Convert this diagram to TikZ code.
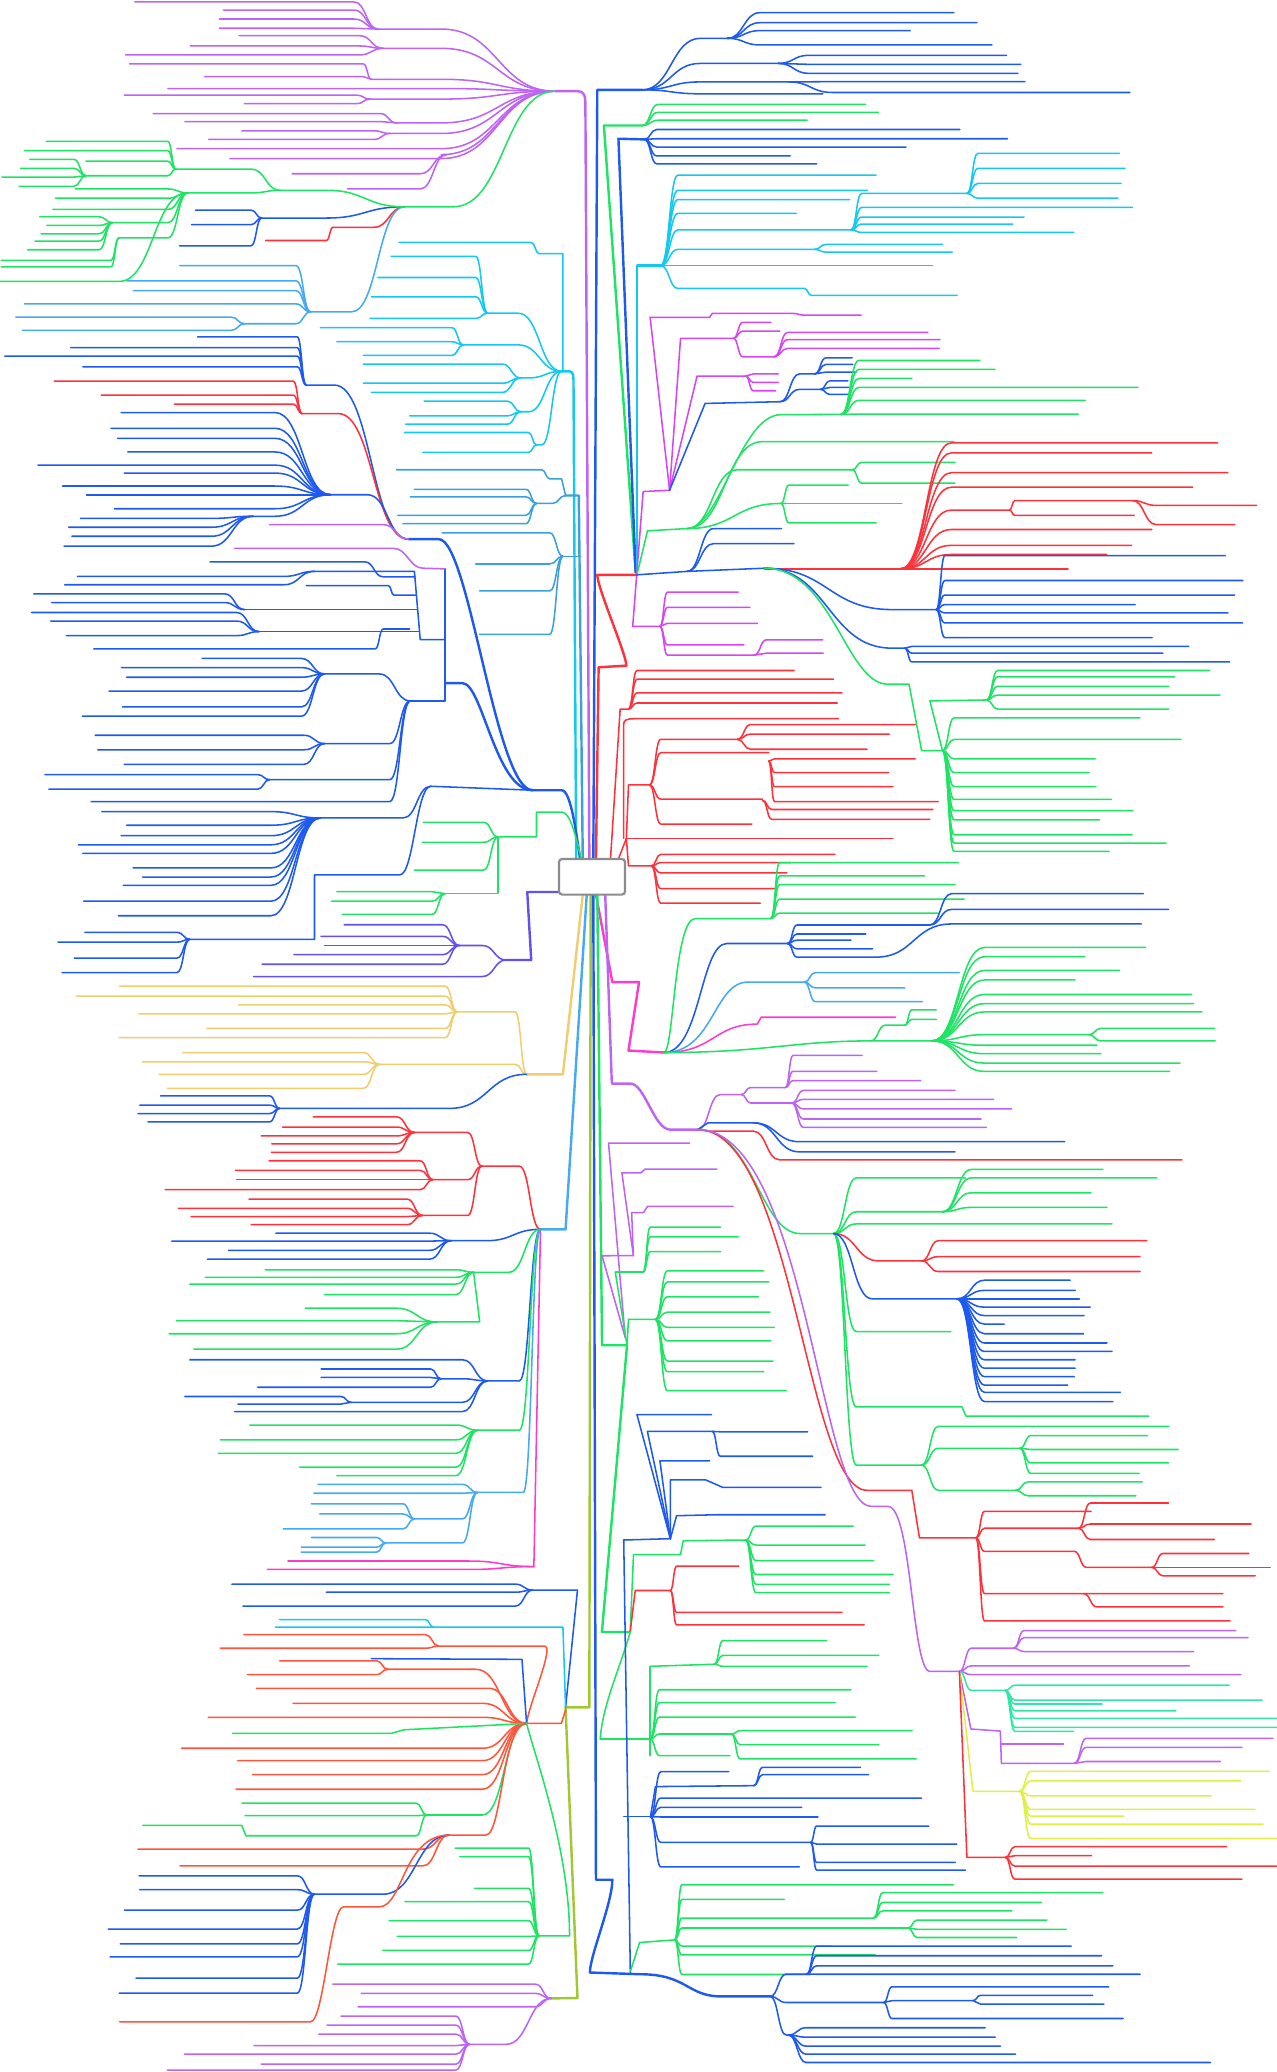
\documentclass[tikz,border=0pt]{standalone}
\usepackage{tikz}
\definecolor{vio}{RGB}{190,100,245}
\definecolor{mgt}{RGB}{215,70,245}
\definecolor{grn}{RGB}{30,228,100}
\definecolor{blu}{RGB}{30,90,240}
\definecolor{cyn}{RGB}{20,200,240}
\definecolor{sky}{RGB}{70,170,240}
\definecolor{stl}{RGB}{60,160,220}
\definecolor{rd}{RGB}{255,50,60}
\definecolor{ord}{RGB}{255,85,60}
\definecolor{yel}{RGB}{240,205,110}
\definecolor{ind}{RGB}{100,80,240}
\definecolor{pnk}{RGB}{255,60,200}
\definecolor{tea}{RGB}{50,230,170}
\definecolor{lim}{RGB}{222,240,70}
\definecolor{ygr}{RGB}{160,200,50}
\definecolor{boxc}{RGB}{140,140,140}
\newcommand\lfan[5]{\foreach \yy/\ee in {#5}{\draw[lf,#1] (#2,#3) .. controls ({(#2+#4)/2},#3) and ({(#2+#4)/2},\yy) .. (#4,\yy) -- (\ee,\yy);}}
\begin{document}
\begin{tikzpicture}[x=0.6pt,y=-0.6pt,
  lf/.style={line width=0.7pt,line cap=round,line join=round},
  tr/.style={line width=1.1pt,line cap=round,line join=round}]
\fill[white] (0,0) rectangle (966,1568);
\useasboundingbox (0,0) rectangle (966,1568);
% ================= LEFT TOP PURPLE =================
\draw[tr,vio] (420,69) -- (437,69) .. controls (442,69) and (443,72) .. (443,80) -- (446,650);
\lfan{vio}{420}{69}{334}{22/286, 36.6/290, 60/281, 67/127, 75/280, 93/300, 101/295, 112.5/134, 120/174, 117/338}
\lfan{vio}{286}{22}{268}{1.5/102, 7.6/169, 14.4/166, 21.4/166}
\lfan{vio}{290}{36.6}{272}{27/181, 34.8/144, 41.6/95}
\lfan{vio}{281}{60}{275}{48.4/98, 58/155}
\lfan{vio}{280}{75}{270}{72/94, 78.5/185}
\lfan{vio}{300}{93}{288}{86/116, 92/140}
\lfan{vio}{295}{101}{283}{99/183, 105.5/158}
\lfan{vio}{338}{117}{318}{131.5/221, 143/263}
% ================= LEFT TOP GREEN =================
\lfan{grn}{420}{69}{343}{156.5/306}
\lfan{rd}{306}{156.5}{283}{172/252}
\lfan{rd}{252}{172}{247}{182/201}
\lfan{blu}{306}{156.5}{247}{165/198}
\lfan{blu}{198}{165}{190}{159/148, 170/145, 186/136}
\lfan{sky}{306}{156.5}{266}{236/235}
\lfan{sky}{235}{236}{224}{201/136, 212.5/96, 220/101, 230/18.5, 245/185}
\lfan{sky}{185}{245}{175}{240/12, 250/17}
\lfan{grn}{306}{156.5}{247}{144/212}
\lfan{grn}{212}{144}{190}{128/133, 146/142}
\lfan{grn}{133}{128}{127}{107/35, 114/18.5, 122/65, 133/65}
\lfan{grn}{65}{133}{56}{120.6/22.5, 127.4/15.5, 134/1.5, 141/14.5}
\lfan{grn}{142}{146}{127}{143/57, 150/42, 158.5/40, 168.5/85, 180/90}
\lfan{grn}{142}{146}{90}{213/0}
\lfan{grn}{85}{168.5}{75}{164/30, 170.6/35.5, 177/31, 182.4/26.5, 189/21}
\lfan{grn}{90}{180}{84}{197/1, 202/1}
% ================= CYAN UPPER LEFT =================
\draw[tr,cyn] (425,281) -- (431,281) .. controls (434,281) and (434,285) .. (434,290) -- (436,650);
\draw[lf,cyn] (302,183.5) -- (402,183.5) .. controls (405,183.5) and (405,192) .. (408,192) -- (426,192) -- (426,281);
\lfan{cyn}{425}{281}{392}{237/369, 261/350.6}
\lfan{cyn}{425}{281}{400}{286/394, 311.6/394}
\lfan{cyn}{425}{281}{410}{336.7/406}
\lfan{cyn}{369}{237}{360}{194/296, 210/286, 224.6/281, 241/280}
\lfan{cyn}{350.6}{261}{342}{248/242.5, 258.6/255, 269/275}
\lfan{cyn}{394}{286}{380}{275.5/275, 290/275, 297/281}
\lfan{cyn}{394}{311.6}{384}{303.5/321, 314.7/310, 321/307}
\lfan{cyn}{406}{336.7}{400}{327.3/306, 342.3/320}
% ================= STEEL BLUE =================
\draw[lf,stl] (300,355.5) -- (410,355.5) .. controls (413,355.5) and (413,362.4) .. (416,362.4) -- (425,362.4) -- (428,375);
\draw[tr,stl] (428,375) -- (438,375) -- (441,650);
\lfan{stl}{428}{375}{418}{381/406}
\lfan{stl}{406}{381}{398}{370.3/313.6, 376/310.5, 390/301, 396.3/305}
\draw[lf,stl] (426,421) -- (439.5,421);
\lfan{stl}{426}{421}{416}{403.2/334.6, 426.8/360, 447.2/363, 480/363}
% ================= LEFT BIG BLUE =================
\draw[tr,blu] (403,598) -- (425,598) .. controls (432,598) and (436,630) .. (439,650);
\draw[tr,blu] (403,598) .. controls (375,598) and (355,408) .. (332,408) -- (309,408);
\lfan{blu}{309}{408}{253}{291.4/231.7}
\lfan{rd}{309}{408}{256}{313/228.6}
\lfan{blu}{309}{408}{278}{374.4/250}
\lfan{vio}{309}{408}{290}{397/204}
\lfan{blu}{231.7}{291.4}{225}{255/149.5, 263/53.4, 269.5/3.7, 277.6/62.7}
\lfan{rd}{228.6}{313}{222}{288.4/41, 299/76.6, 305.8/132}
\lfan{blu}{250}{374.4}{208}{312.2/91.7, 324.1/84, 331.7/89, 342/96.7, 352/28.7, 358/94, 367.8/47.3, 374.4/65.5, 385/86.5, 390.7/191.5}
\lfan{blu}{191.5}{390.7}{160}{392.3/61, 399/52, 405.8/54.4, 413.3/48.5}
\draw[tr,blu] (403,598) .. controls (375,598) and (365,517) .. (350,517) -- (336.7,517);
\draw[lf,blu] (336.7,430.5) -- (336.7,530.4);
\draw[lf,vio] (336.7,430.5) -- (320,430) .. controls (310,430) and (308,415) .. (298,415) -- (177.6,415);
% B7 group
\draw[lf,blu] (336.7,484) -- (318,484) -- (313.6,432.4) -- (238,432.4);
\lfan{blu}{238}{432.4}{215}{436.2/58.7, 442.5/49}
\draw[lf,blu] (159,425.2) -- (276,425.2) .. controls (283,425.2) and (283,436.5) .. (290,436.5) -- (314,436.5);
\draw[lf,blu] (231.7,443.2) -- (294,443.2) .. controls (296,443.2) and (296,450.3) .. (298,450.3) -- (315,450.3);
\draw[lf,blu] (316,461.3) -- (185,461.3);
\lfan{blu}{185}{461.3}{170}{449.4/25.6, 456/39.2}
\draw[lf,blu] (317,478) -- (196,478);
\lfan{blu}{196}{478}{179}{463.5/24, 470/38.3, 481/50.4}
\draw[lf,blu] (71,491) -- (284,491) .. controls (287,491) and (287,476) .. (290,476) -- (310,476);
% B9 group
\draw[lf,blu] (336.7,530.4) -- (310.5,530.4);
\lfan{blu}{310.5}{530.4}{287}{510/245.6}
\lfan{blu}{245.6}{510}{228}{498.3/153, 505.2/92, 512.5/95.8, 523/82.5, 535/92.7, 542/62.4}
\lfan{blu}{310.5}{530.4}{295}{562.7/245.6, 590/204, 606.6/69}
\lfan{blu}{245.6}{562.7}{230}{556.4/72, 567.4/74, 578.4/94}
\lfan{blu}{204}{590}{195}{586.2/34, 597.2/37}
\draw[lf,blu] (403,598) -- (326,595);
\lfan{blu}{326}{595}{305}{619/242.5}
\lfan{blu}{242.5}{619}{205}{614.2/77, 624.5/95.8, 632.4/91.7, 639.3/59.3, 645.8/62.7, 656.8/100.7, 663.7/108, 670/93.3, 682/63.3, 693/89.6}
\draw[lf,blu] (326,595) .. controls (315,595) and (313,662) .. (302.7,662) -- (238,662) -- (238,710.8) -- (143.6,710.8);
\lfan{blu}{143.6}{710.8}{134}{705.5/64.3, 713/43.9, 725/56.2, 736/47}
% ================= GREEN NEAR BOX =================
\draw[lf,grn] (376.9,633.3) -- (406,633.3) -- (406,614.5) -- (425,614.5) .. controls (432,614.5) and (436,635) .. (440,650);
\lfan{grn}{376.9}{633.3}{366}{622.3/320.4, 637.4/319.7, 658.4/313.6}
\draw[lf,grn] (376.9,633.3) -- (376.9,676.3) -- (336.7,676.3);
\lfan{grn}{336.7}{676.3}{327}{674.8/255, 682/251, 692/259}
% ================= INDIGO =================
\draw[tr,ind] (383,726.5) -- (402,726.5) -- (399,675) -- (423,675);
\lfan{ind}{383}{726.5}{365}{715.5/347.5, 739/192}
\lfan{ind}{347.5}{715.5}{335}{699.8/260.4, 708.6/243, 715.5/245.6, 722.4/222.4, 729.7/198.3}
% ================= YELLOW =================
\draw[tr,yel] (398.5,813) -- (426,813) -- (441,677);
\lfan{yel}{398.5}{813}{390}{765.8/346, 805.4/287.3}
\lfan{yel}{346}{765.8}{337}{746.3/90.5, 753.8/57.8, 760.4/180.7, 767.3/105, 778.3/156.6, 785.2/90.2}
\lfan{yel}{287.3}{805.4}{275}{796.5/138.4, 803.5/107.8, 813/120.5, 823.6/126.7}
\lfan{blu}{398.5}{813}{340}{838.8/211.6}
\lfan{blu}{211.6}{838.8}{204}{829.3/121.4, 836.3/105.7, 842.7/104.4, 849/112}
% ================= LOWER LEFT R0 =================
\draw[tr,sky] (409,930.3) -- (428,930.3) -- (444,677);
\lfan{rd}{409}{930.3}{393}{882.5/364.6}
\lfan{rd}{364.6}{882.5}{354}{857/313.6, 892.7/327.5, 919.8/319.7}
\lfan{rd}{313.6}{857}{300}{845.2/237, 852.9/213.8, 859.6/197.7, 865.6/205.7, 872/205.4}
\lfan{rd}{327.5}{892.7}{318}{878.4/203.6, 885.7/178.2, 892.7/178.9, 900.3/125.1}
\lfan{rd}{319.7}{919.8}{308}{907.4/188.4, 914.4/135, 920.7/144.6, 926.8/190}
\lfan{blu}{409}{930.3}{368}{938.9/341.4}
\lfan{blu}{341.4}{938.9}{325}{933.2/208.8, 939.2/130, 946.2/173, 952.9/157}
\lfan{grn}{409}{930.3}{385}{962.8/358.4}
\lfan{grn}{358.4}{962.8}{345}{960.9/200.8, 966.6/155.4, 971.7/143.6, 979.7/245.6}
\draw[lf,grn] (358.4,962.8) -- (363,1000.4) -- (330.6,1000.4);
\lfan{grn}{330.6}{1000.4}{300}{990/231, 999.4/133.5, 1009.3/128, 1021/146.7}
\lfan{blu}{409}{930.3}{393}{1045/369}
\lfan{blu}{369}{1045}{350}{1029/143.6, 1043.4/333.6, 1061.2/265.7, 1068.2/177.6}
\lfan{blu}{333.6}{1043.4}{326}{1036/243, 1042.4/243, 1049.8/195}
\lfan{blu}{265.7}{1061.2}{258}{1056.8/140, 1062.5/180}
\lfan{grn}{409}{930.3}{393}{1082.3/361.4}
\lfan{grn}{361.4}{1082.3}{345}{1078.4/189, 1089.6/166.8, 1099.8/165.3, 1110.3/226.8, 1116.6/254.9}
\lfan{sky}{409}{930.3}{396}{1129.4/361.4}
\lfan{sky}{361.4}{1129.4}{350}{1123.3/240.7, 1130/237.6, 1149.4/313.6, 1167.6/292}
\lfan{sky}{313.6}{1149.4}{305}{1138/235.7, 1145.7/241.9, 1157/214.4}
\lfan{sky}{292}{1167.6}{285}{1163.5/235.7, 1170.8/228, 1174.6/228}
\draw[lf,pnk] (409,932) -- (404,1185.5);
\lfan{pnk}{404}{1185.5}{355}{1181.3/217.8, 1187.7/202.3}
% ================= LOWER LEFT R2 =================
\draw[tr,ygr] (447,677) -- (446,1292) -- (428,1292) -- (437,1512) -- (417,1512.3);
\draw[lf,blu] (403,1203.3) -- (437,1203.3) -- (428,1292);
\lfan{blu}{403}{1203.3}{390}{1198.8/175.5, 1204.9/247, 1215.4/183.8}
\draw[lf,cyn] (208.5,1231.3) -- (426,1231.3) -- (428,1292);
\draw[lf,cyn] (211.6,1225.6) -- (322,1225.6) .. controls (325,1225.6) and (325,1231.3) .. (328,1231.3);
\draw[lf,ord] (398.5,1304.2) -- (424.8,1304.2) -- (428,1294);
\lfan{ord}{398.5}{1304.2}{365}{1289/221.8, 1299.6/157.6, 1323/137.5, 1332.4/179.8, 1343/191, 1354/178.6}
\lfan{ord}{398.5}{1304.2}{370}{1277.6/194}
\lfan{ord}{398.5}{1304.2}{360}{1263.2/293.5}
\lfan{ord}{293.5}{1263.2}{285}{1256.8/211.6, 1267.3/187.2}
\draw[lf,ord] (332,1245.7) -- (412,1245.7) .. controls (420,1245.7) and (400,1290) .. (398.5,1304.2);
\lfan{ord}{332}{1245.7}{322}{1237/184.4, 1247.3/166.8}
\draw[lf,blu] (281,1255.2) -- (395,1255.7) -- (398.5,1304.2);
\draw[lf,grn] (176,1311.7) -- (296,1311.7) -- (306,1309) -- (398.5,1304.2);
\lfan{grn}{398.5}{1304.2}{365}{1373.5/322.8}
\lfan{grn}{322.8}{1373.5}{315}{1364.5/183.2, 1374/185.4, 1389.2/186.3}
\draw[lf,grn] (108,1381.4) -- (183,1381.4) -- (186,1389.2);
\draw[lf,ord] (398.5,1304.2) .. controls (380,1304.2) and (380,1388.7) .. (367.6,1388.7) -- (339.8,1388.7);
\lfan{ord}{339.8}{1388.7}{320}{1399.3/104.4, 1412/136.2}
\lfan{blu}{339.8}{1388.7}{290}{1433.4/237.9}
\lfan{blu}{237.9}{1433.4}{225}{1419.5/105.3, 1430/105.7, 1445.5/94.2, 1459.8/81.9, 1471/91, 1480.8/83.4, 1497/102.9, 1508.3/90.2}
\draw[lf,ord] (339.8,1388.7) .. controls (305,1388.7) and (305,1443) .. (287,1443) -- (260,1443) .. controls (250,1443) and (245,1530) .. (235,1530) -- (90.5,1530);
\draw[lf,grn] (407.8,1465) -- (431,1465) .. controls (431,1400) and (405,1330) .. (398.5,1304.2);
\lfan{grn}{407.8}{1465}{400}{1398.5/344.5, 1405/348, 1429/359, 1439/306.5, 1453.5/294.4, 1465.4/300.6, 1476/289.8, 1486.3/255.5}
\lfan{vio}{417}{1512.3}{405}{1501.5/251.8, 1508.5/273.4, 1518.6/271}
\lfan{vio}{417}{1512.3}{383}{1547/355.3}
\lfan{vio}{355.3}{1547}{345}{1525.7/258, 1532.5/247.5, 1539.3/241.3, 1548/192.2, 1554.5/139.6, 1562/197.7, 1566.5/126.7}
% ================= RIGHT TOP =================
\draw[tr,blu] (486,68) -- (452,68) -- (449,650);
\lfan{blu}{486}{68}{530}{29/550.5, 48/588.9, 62/597, 71/622.7}
\lfan{blu}{550.5}{29}{575}{9.6/721.8, 17.2/739.3, 23.2/688.7, 34/750.7}
\lfan{blu}{588.9}{48}{612}{41.9/761.7, 48.7/772.5, 55.5/770.3}
\lfan{blu}{597}{62}{630}{61.8/775.6, 70/855}
\draw[tr,grn] (486,95) -- (457,95) -- (481,433);
\lfan{grn}{486}{95}{498}{79/655, 85/664.7, 91/610.7}
\draw[tr,blu] (487.6,105.5) -- (468,105) -- (481,433);
\lfan{blu}{487.6}{105.5}{497}{98/726.4, 105/762.4, 111.3/685.6, 118/598, 124/618}
\draw[tr,cyn] (500,201) -- (482,201) -- (482,433);
\lfan{cyn}{500}{201}{513}{132.5/663, 144/656.4, 151/643, 161.5/602.7, 174/644, 188.7/616.5, 201/705.6, 218.3/608.8}
\lfan{cyn}{644}{174}{652}{146.4/731.7, 157/857, 164.3/775, 169.6/766.4, 175.9/812.4}
\lfan{cyn}{731.7}{146.4}{740}{116/847, 127.4/851.4, 138.8/848.3, 150/846}
\lfan{cyn}{616.5}{188.7}{625}{185/713.2, 190.8/720.6}
\lfan{cyn}{608.8}{218.3}{614}{223.6/724.3}
% ---- upper-right purple ----
\draw[lf,mgt] (506.7,371) -- (486.7,372) -- (478.8,474) -- (499.4,474);
\draw[lf,mgt] (492,240.2) -- (537,240.2) -- (539,237.2) -- (600,237.2) .. controls (605,237.2) and (603,238.5) .. (610,238.5) -- (651.8,238.5);
\draw[lf,mgt] (492,240.2) -- (506.7,371);
\draw[lf,mgt] (506.7,371) -- (515,256) -- (555,256);
\lfan{mgt}{555}{256}{562}{244/583.4, 250.6/590, 270/585.8}
\lfan{mgt}{585.8}{270}{596}{251.6/702.2, 257/711.4, 263.7/710.8}
\draw[lf,mgt] (506.7,371) -- (527.5,284.6) -- (564.3,284.6);
\lfan{mgt}{564.3}{284.6}{570}{283/589, 289.4/589, 295.7/587}
\draw[lf,blu] (506.7,371) -- (533.6,305.3) -- (590.4,304);
\lfan{blu}{590.4}{304}{605}{294.7/621, 283/616.5}
\lfan{blu}{621}{294.7}{628}{288.2/641.7, 293.2/642.3, 298.5/642.3}
\lfan{blu}{616.5}{283}{625}{270.8/644.8, 275.8/645.4, 281.6/647.8}
\draw[lf,grn] (636.5,313.6) -- (591,313.8) .. controls (560,313.8) and (545,400) .. (520,400) -- (490,401.7) -- (482,435);
\lfan{grn}{636.5}{313.6}{650}{272.8/741.5, 279.6/752.8, 286.4/690, 293.2/861.2, 303/821.3, 313.4/816}
\lfan{grn}{520}{400}{577}{334.2/722}
\lfan{grn}{520}{400}{558}{355.5/645}
\lfan{grn}{645}{355.5}{652}{349.9/722.7, 365.6/722.7}
\lfan{grn}{520}{400}{591}{381/595}
\lfan{grn}{591}{381}{597}{367.1/641.9, 381/682.5, 395.7/663}
% ---- hub H ----
\draw[tr,rd] (482,435) -- (452,435) .. controls (452,445) and (474,495) .. (474,503.7) -- (453,505) -- (451,650);
\draw[lf,blu] (482,435) -- (520,432.4) -- (578.6,430);
\lfan{blu}{520}{432.4}{540}{400/591.3, 411.4/600.8}
\draw[lf,rd] (578.6,430.5) -- (681.5,430.5);
\lfan{rd}{681.5}{430.5}{720}{335.1/921.3, 342.7/871.6, 357.7/929.2, 368.7/902.6, 386/763.9, 400.7/871.6, 412.7/856.4, 419.6/837.4, 430.5/808.2}
\lfan{rd}{763.9}{386}{768}{378.8/857, 390/858.3}
\lfan{rd}{857}{378.8}{875}{382.5/950.8, 397/934.3}
\lfan{blu}{578.6}{430}{675}{461.3/708.5, 490.5/684.7}
\lfan{blu}{708.5}{461.3}{715}{420.5/927.3, 439.3/940.6, 450.3/934.3, 457.5/859, 463.8/929.2, 471.4/940.3, 482.6/871.9}
\lfan{blu}{684.7}{490.5}{690}{489.2/899.5, 494.3/880, 500.9/930.5}
\draw[lf,grn] (578.6,430) .. controls (630,430) and (640,517.8) .. (672,517.8) -- (687.9,517.8) -- (697.4,568) -- (713.2,568);
\lfan{grn}{713.2}{568}{722}{574.3/828.8, 584.7/824, 595.3/829.4, 605/840.9, 613.5/857.3, 620.4/832, 631.7/856.7, 638/882.4, 644.3/839.3, 543.2/862.7, 559.5/893.7}
\draw[lf,grn] (713.2,568) -- (703.7,530.4) -- (746.5,529.7);
\lfan{grn}{746.5}{529.7}{755}{507.4/915.3, 512.2/889, 519.4/884.3, 526/923.2, 536.6/884.3}
\lfan{mgt}{499.4}{474}{505}{448.1/558.6, 459.7/567.5, 471.7/573.2, 488/563, 495.8/570.6}
\lfan{mgt}{570.6}{495.8}{580}{484.2/622.6, 494.3/623}
% ---- red clusters near box ----
\draw[lf,rd] (462,650) -- (469.3,536.6) -- (475.6,536.6);
\lfan{rd}{475.6}{536.6}{482}{507.4/601, 514/630.8, 524.4/637.2, 532/633.7}
\draw[lf,rd] (468,650) -- (474,634.5);
\draw[lf,rd] (472,634.5) -- (472,548) .. controls (472,545) and (474,543.9) .. (480,543.9) -- (634.6,543.9);
\draw[lf,rd] (474,634.5) -- (475.6,594) -- (491.5,594);
\lfan{rd}{491.5}{594}{500}{559.5/558, 569.6/581.8, 604.7/577, 623.6/569}
\lfan{rd}{558}{559.5}{568}{548.3/692.6, 555.5/673, 567/656.2}
\lfan{rd}{581.8}{576}{586}{574.3/692.6, 584.7/672.3, 595.3/675.8, 606.6/710}
\lfan{rd}{577}{605.7}{584}{612.6/706, 620/703.7}
\lfan{rd}{474}{634.5}{490}{634.5/675.8}
\draw[lf,rd] (474,634.5) -- (475.6,655.3) -- (493,655.3);
\lfan{rd}{493}{655.3}{500}{646.5/631.8, 652.8/598.5, 660.6/595.4, 672.5/587.1, 683.5/575.4}
% ---- J junction ----
\draw[tr,pnk] (451,677) -- (463.4,743.2) -- (483.6,743.2) -- (475.6,795) -- (502.6,796.5);
\draw[lf,grn] (583.3,695.1) -- (526.3,695.1) .. controls (510,695.1) and (510,795) .. (502.6,796.5);
\lfan{grn}{583.3}{695.1}{590}{652.8/725.2, 662.8/699.6, 669.4/722.7, 680.4/729.7, 691/710}
\draw[lf,blu] (502.6,796.5) .. controls (530,796.5) and (530,714) .. (550,714) -- (596,714);
\lfan{blu}{596}{714}{603}{700/703.7, 706.8/655.2, 711.5/644, 718/660.3, 724.3/663}
\lfan{blu}{703.7}{700}{720}{676.3/865.2, 688.2/884.3}
\lfan{blu}{663}{724.3}{720}{699.2/863.7}
\draw[lf,sky] (502.6,796.5) .. controls (540,796.5) and (540,743.2) .. (566,743.2) -- (608.7,743.2);
\lfan{sky}{608.7}{743.2}{617}{736/725.9, 747.6/684.7, 758/698}
\draw[lf,pnk] (502.6,796.5) .. controls (540,796.5) and (540,775) .. (573,775) -- (576,769.8) -- (677.7,769.8);
\draw[lf,grn] (502.6,796.5) .. controls (580,796.5) and (600,787.7) .. (659,787.7) -- (705.3,787.7);
\lfan{grn}{659}{787.7}{670}{775.8/684.7}
\lfan{grn}{684.7}{775.8}{690}{764.2/708.5, 771.4/708.5}
\lfan{grn}{705.3}{787.7}{745}{717/866.8, 724/821, 734.4/847.2, 741.6/813.6, 752.6/901.7, 759.5/903.3, 765.8/909.6, 783/824, 791/830, 797.4/833, 804.5/893, 810.8/885}
\lfan{grn}{824}{783}{833}{778.3/919, 787.7/919.6}
% ---- purple PR ----
\draw[tr,vio] (458,677) -- (463,820) -- (477,820) .. controls (488,820) and (495,854.8) .. (507,854.8) -- (528,854.8);
\lfan{vio}{528}{854.8}{545}{828.3/561}
\lfan{vio}{561}{828.3}{568}{823/594.4, 834.7/599.2}
\lfan{vio}{594.4}{823}{600}{798.7/652.4, 810.8/663.5, 817.8/696.7}
\lfan{vio}{599.2}{834.7}{608}{825.2/722.7, 831.9/751.9, 839.2/765.5, 846.8/742.4, 853.2/746.5}
\draw[lf,blu] (528,854.8) -- (535.8,849.7) -- (570,849.7);
\lfan{blu}{570}{849.7}{605}{864/805.7, 871.7/722.7}
\draw[lf,rd] (528,854.8) -- (535.8,856) -- (570,856);
\lfan{rd}{570}{856}{590}{877.7/894.4}
\draw[lf,grn] (528,854.8) .. controls (570,854.8) and (575,933.5) .. (605.5,933.5) -- (630.8,933.5);
\lfan{grn}{630.8}{933.5}{648}{891.4/730.6, 917/713.2, 926.2/841.5, 1007.7/719.5, 1064.7/653, 1108.7/697.4}
\draw[lf,grn] (653,1064.7) -- (728,1064.7) -- (731,1071.7) -- (869.4,1071.7);
\lfan{rd}{630.8}{933.5}{665}{954.2/697.4}
\lfan{blu}{630.8}{933.5}{660}{982.9/724.3}
\lfan{grn}{713.2}{917}{735}{885/834.5, 891.4/875.4, 902.6/825.6, 913.7/837.7}
\lfan{rd}{697.4}{954.2}{710}{938.9/867.8, 951/862.7, 962.2/862.7}
\lfan{blu}{724.3}{982.9}{745}{968.8/809.8, 976.5/813.6, 982.9/816.8, 989.2/825, 995.6/820.3, 1002/760, 1009.3/820, 1016.3/837.7, 1022.7/841.5, 1029/813.6, 1035.4/813.6, 1041.8/813, 1048.2/808, 1053.6/847.8, 1060.6/842.1}
\lfan{grn}{697.4}{1108.7}{710}{1079.4/884.3, 1096/771.8, 1127.8/768.6}
\lfan{grn}{771.8}{1096}{780}{1086.4/868.4, 1096.9/891.5, 1107/884.3, 1115/862}
\lfan{grn}{768.6}{1127.8}{778}{1121.4/864.3, 1131.9/859.5}
\draw[lf,rd] (528,854.8) .. controls (600,854.8) and (610,1127.8) .. (656.2,1127.8) -- (690,1127.8) -- (695.8,1163.8) -- (738.5,1163.8);
\lfan{rd}{738.5}{1163.8}{745}{1143.7/825.7, 1156.5/816.2, 1174/813, 1205.9/925.4, 1226.6/930.8}
\lfan{rd}{816.2}{1156.5}{825}{1137.4/884.3, 1153.3/946.7, 1165/919}
\lfan{rd}{813}{1174}{822}{1186.1/871.6}
\lfan{rd}{871.6}{1186.1}{880}{1175.6/945, 1186.1/961.2, 1192.5/949.8}
\lfan{rd}{820}{1205.9}{830}{1216/925.4}
\draw[lf,vio] (528,854.8) .. controls (610,854.8) and (620,1140) .. (659.4,1140) -- (672,1140) .. controls (690,1140) and (690,1264.8) .. (703.7,1264.8) -- (726,1264.8);
\lfan{vio}{726}{1264.8}{735}{1247.3/767, 1260.6/900, 1267.3/939}
\lfan{vio}{767}{1247.3}{775}{1233.9/935, 1239.3/944.4, 1249.8/903.3}
\lfan{tea}{726}{1264.8}{735}{1279.2/760.7}
\lfan{tea}{760.7}{1279.2}{768}{1275.3/930.2, 1286.5/955, 1289.5/834, 1294.6/889.8, 1300.4/966, 1307.2/966, 1310.2/812.4}
\draw[lf,vio] (726,1264.8) -- (734.7,1308.4) -- (757,1310) -- (757.8,1334.4) -- (813,1334.4);
\draw[lf,vio] (757.8,1319.8) -- (804.7,1319.8);
\lfan{vio}{813}{1334.4}{822}{1315.5/963.4, 1322.3/939.8, 1333/923.5}
\draw[lf,lim] (726,1264.8) -- (736.3,1355.6) -- (771.6,1355.6);
\lfan{lim}{771.6}{1355.6}{780}{1340.5/960.4, 1347.6/938.9, 1359/916.5, 1369.3/949.8, 1374.3/850.5, 1380.4/955.8, 1391.2/966}
\draw[lf,rd] (726,1264.8) -- (731.7,1405.6) -- (760.8,1405.6);
\lfan{rd}{760.8}{1405.6}{768}{1397.5/928.2, 1404.3/826, 1412.2/966, 1422/939.8}
% ---- mid-right column: green trunk, purple and green clusters ----
\draw[tr,grn] (452,677) -- (455.6,1018) -- (474.5,1018) -- (464.3,1135) -- (455.5,1235) -- (476.9,1235);
\draw[lf,vio] (521.9,865) -- (460.5,865) -- (473.1,1012);
\draw[lf,vio] (542.5,884.8) -- (488,884.8) -- (485,887.5) -- (470.6,887.5) -- (479.3,950.2) -- (455.6,950.3) -- (473.1,1012);
\draw[lf,vio] (554.7,913) -- (490,913) -- (487,917.7) -- (478,917.7) -- (479.3,950.2);
\draw[lf,grn] (474.5,1018) -- (465.6,962.6) -- (486.7,962.6);
\lfan{grn}{486.7}{962.6}{492}{928.7/545.3, 936/558.6, 947.2/545.3}
\draw[lf,grn] (474.5,1018) -- (475.6,998.4) -- (496,998.4);
\lfan{grn}{496}{998.4}{505}{961.8/577.6, 970.1/581.8, 981.3/573.8, 993/582.7, 1004.5/585.9, 1014.7/583.3, 1030/585, 1038/578, 1052.3/595}
% ---- right-lower blue cluster ----
\draw[lf,blu] (472,1165.4) -- (507.3,1164.4);
\draw[lf,blu] (507.3,1164.4) -- (482,1070.5) -- (538.4,1070.5);
\draw[lf,blu] (507.3,1164.4) -- (489.9,1083.2) -- (539,1083.2);
\lfan{blu}{539}{1083.2}{545}{1083.5/611.2, 1102/615}
\draw[lf,blu] (507.3,1164.4) -- (499.4,1105.5) -- (537,1105.5);
\draw[lf,blu] (507.3,1164.4) -- (507.3,1119.9) -- (534,1119.9) -- (547,1125.6) -- (621.3,1125.6);
\draw[lf,blu] (507.3,1164.4) -- (512,1147) -- (542,1146.3) -- (624.5,1146.3);
\draw[lf,grn] (476.9,1235) -- (479.4,1176.4) -- (515,1176.4) -- (517,1166) -- (564.3,1165.4);
\lfan{grn}{564.3}{1165.4}{572}{1154.9/645.7, 1169.2/654.6, 1181/661, 1191.5/675.8, 1198.9/673, 1205.2/673}
\draw[lf,rd] (476.9,1235) -- (480.7,1203.6) -- (507.3,1203.6);
\lfan{rd}{507.3}{1203.6}{512}{1185.2/559, 1220.2/637.2, 1229.7/654}
\draw[lf,grn] (476.9,1235) .. controls (470,1260) and (456,1290) .. (454.2,1316) -- (492,1316);
\draw[lf,grn] (492,1261) -- (492,1328.6);
\draw[lf,grn] (492,1261) -- (540.6,1259.4);
\lfan{grn}{540.6}{1259.4}{547}{1241.5/625.5, 1252.7/665, 1261/656.2}
\lfan{grn}{492}{1316}{499}{1278.7/643.9, 1288.4/632, 1299.4/647.2, 1312.2/553.6, 1328.6/552.4}
\lfan{grn}{553.6}{1312.2}{560}{1309.7/690.2, 1320.3/665, 1331/693.3}
\draw[lf,blu] (472,1165.4) -- (477,1493);
\draw[lf,blu] (472,1374.8) -- (492.2,1374.8);
\draw[lf,blu] (492.2,1374.8) -- (496,1352) -- (570.5,1351.3);
\lfan{blu}{570.5}{1351.3}{577}{1337.5/651.2, 1343/657.4}
\lfan{blu}{492.2}{1374.8}{500}{1340.7/551.4, 1360.7/697.3, 1367.7/606.7, 1375/619, 1394.2/613.5, 1412.7/604.9}
\lfan{blu}{613.5}{1394.2}{618}{1381.9/702.8, 1395.5/724, 1409.4/723, 1415.2/730.7}
\draw[lf,grn] (477,1492) -- (484,1470) -- (510.6,1468);
\lfan{grn}{510.6}{1468}{516}{1426.3/721.5, 1437.4/593.5, 1451.5/661, 1459/687.1, 1472.7/629.1, 1479.3/662.3, 1494.2/613.5}
\lfan{grn}{661}{1451.5}{668}{1432.3/834.5, 1439.7/788, 1446/765.7}
\lfan{grn}{687.1}{1459}{694}{1453/792.2, 1460/807, 1466.2/769.4}
\draw[tr,blu] (449,677) -- (451,1422.5) -- (463.4,1422.5) .. controls (463.4,1440) and (446.4,1480) .. (446.4,1492.7) -- (484.5,1494) .. controls (520,1494) and (520,1510.8) .. (545.9,1510.8) -- (582.8,1510.8);
\lfan{blu}{582.8}{1510.8}{595}{1493.9/610.4, 1515.4/668.7, 1540/596.6}
\lfan{blu}{610.4}{1493.9}{618}{1472.7/810.6, 1480/833.6, 1487.6/842.2, 1494/862.8}
\lfan{blu}{668.7}{1515.4}{675}{1503.5/839, 1514/736.3, 1527.5/849.9}
\lfan{blu}{736.3}{1514}{742}{1510/826.8, 1516.6/835.4}
\lfan{blu}{596.6}{1540}{610}{1534.5/745.5, 1541.6/753.2, 1548.4/757.1, 1554.5/768.5, 1560.8/915.9}
% ================= ROOT BOX =================
\node[draw=boxc, fill=white, rounded corners=1.5pt, line width=1pt, minimum width=30pt, minimum height=16.2pt, inner sep=0pt] (root) at (448,663.5) {};
\end{tikzpicture}
\end{document}
